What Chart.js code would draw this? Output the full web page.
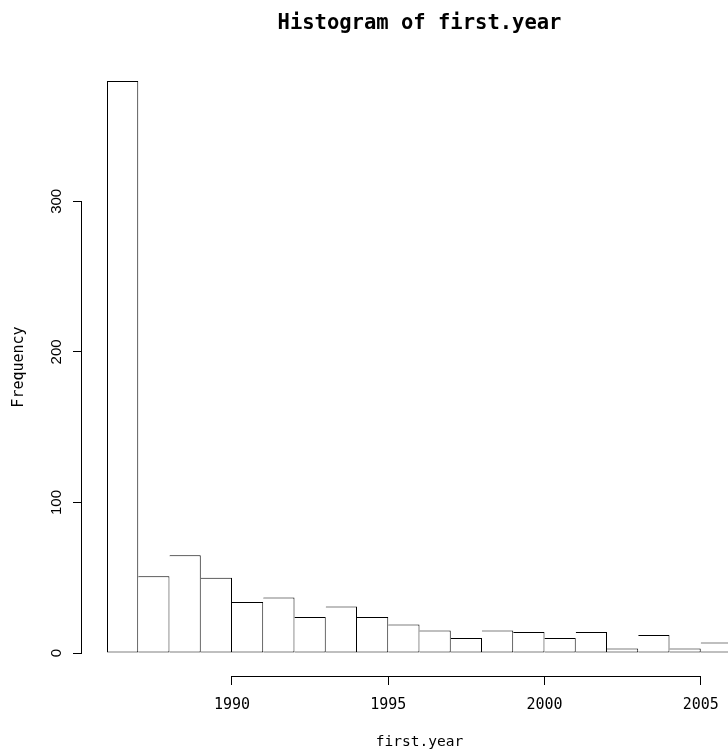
<!DOCTYPE html>
<html>
<head>
<meta charset="utf-8">
<script src="https://cdn.jsdelivr.net/npm/chart.js@4"></script>
<style>
  html, body { margin: 0; padding: 0; background: #fff; overflow: hidden; }
  #wrap { width: 728px; height: 756px; overflow: hidden; }
  canvas { display: block; }
</style>
</head>
<body>
<div id="wrap"><canvas id="hist" width="757" height="756"></canvas></div>
<script>
// Yearly bins (left edge of each one-year break) and their counts
const binStarts = [1986, 1987, 1988, 1989, 1990, 1991, 1992, 1993, 1994, 1995,
                   1996, 1997, 1998, 1999, 2000, 2001, 2002, 2003, 2004, 2005];
const counts    = [380, 51, 65, 50, 34, 37, 24, 31, 24, 19,
                   15, 10, 15, 14, 10, 14, 3, 12, 3, 7];

// Axis tick values
const xTicks = [1990, 1995, 2000, 2005];
const yTicks = [0, 100, 200, 300];

// Plot range: breaks extended by 4% on each side, as R's hist() does
const xLo = binStarts[0], xHi = binStarts[binStarts.length - 1] + 1;
const xPad = (xHi - xLo) * 0.04;
const yMax = Math.max(...counts);
const yPad = yMax * 0.04;

const MONO = "'DejaVu Sans Mono', monospace";

// R-style axes: a line only between the first and last tick, plus rotated y labels
const rAxes = {
  id: 'rAxes',
  afterDraw(chart) {
    const { ctx, chartArea, scales: { x, y } } = chart;
    const al = p => Math.round(p - 0.5) + 0.5;
    ctx.save();
    ctx.strokeStyle = '#000';
    ctx.lineWidth = 1;
    ctx.beginPath();
    const xa = chartArea.bottom + 0.5;
    ctx.moveTo(al(x.getPixelForValue(xTicks[0])), xa);
    ctx.lineTo(al(x.getPixelForValue(xTicks[xTicks.length - 1])), xa);
    const ya = chartArea.left - 0.5;
    ctx.moveTo(ya, al(y.getPixelForValue(yTicks[0])));
    ctx.lineTo(ya, al(y.getPixelForValue(yTicks[yTicks.length - 1])));
    ctx.stroke();

    ctx.fillStyle = '#000';
    ctx.font = "15px 'Liberation Sans', Arial, sans-serif";
    ctx.textAlign = 'center';
    ctx.textBaseline = 'middle';
    for (const v of yTicks) {
      ctx.save();
      ctx.translate(chartArea.left - 25, y.getPixelForValue(v));
      ctx.rotate(-Math.PI / 2);
      ctx.fillText(String(v), 0, 0);
      ctx.restore();
    }
    ctx.restore();
  }
};

new Chart(document.getElementById('hist'), {
  type: 'bar',
  data: {
    datasets: [{
      data: binStarts.map((b, i) => ({ x: b + 0.5, y: counts[i] })),
      backgroundColor: '#ffffff',
      borderColor: '#000000',
      borderSkipped: false,
      borderWidth: c => ({ top: 1, right: 1, bottom: 1, left: c.dataIndex === 0 ? 1 : 0 }),
      inflateAmount: 0,
      barPercentage: 1,
      categoryPercentage: 1
    }]
  },
  options: {
    responsive: false,
    devicePixelRatio: 1,
    animation: false,
    layout: { padding: 0 },
    plugins: {
      legend: { display: false },
      tooltip: { enabled: false },
      title: {
        display: true,
        text: 'Histogram of first.year',
        fullSize: false,
        color: '#000',
        font: { family: MONO, size: 20.5, weight: 'bold', lineHeight: 1.2 },
        padding: { top: 11, bottom: 22.4 }
      }
    },
    scales: {
      x: {
        type: 'linear',
        offset: false,
        min: xLo - xPad,
        max: xHi + xPad,
        afterBuildTicks: s => { s.ticks = xTicks.map(v => ({ value: v })); },
        afterFit: s => { s.height = 80; },
        border: { display: false },
        grid: { display: true, offset: false, drawOnChartArea: false, drawTicks: true, tickLength: 9, color: '#000', lineWidth: 1 },
        ticks: {
          color: '#000',
          padding: 11,
          maxRotation: 0,
          font: { family: MONO, size: 15 },
          callback: v => String(v)
        },
        title: {
          display: true,
          text: 'first.year',
          color: '#000',
          font: { family: MONO, size: 14.5, lineHeight: 1.2 },
          padding: { top: 0, bottom: 5 }
        }
      },
      y: {
        type: 'linear',
        min: -yPad,
        max: yMax + yPad,
        afterBuildTicks: s => { s.ticks = yTicks.map(v => ({ value: v })); },
        afterFit: s => { s.width = 82; },
        border: { display: false },
        grid: { display: true, offset: false, drawOnChartArea: false, drawTicks: true, tickLength: 9, color: '#000', lineWidth: 1 },
        ticks: { display: false },
        title: {
          display: true,
          text: 'Frequency',
          color: '#000',
          font: { family: MONO, size: 15, lineHeight: 1.2 },
          padding: { top: 10, bottom: 0 }
        }
      }
    }
  },
  plugins: [rAxes]
});
</script>
</body>
</html>
